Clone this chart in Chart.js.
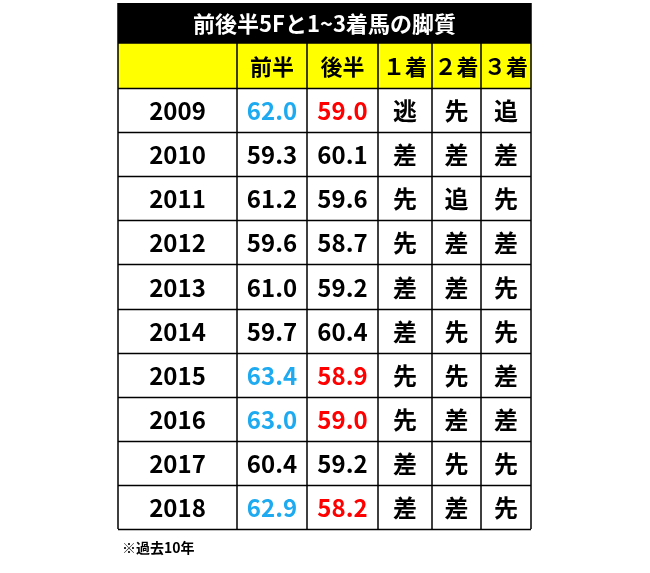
<!DOCTYPE html>
<html><head><meta charset="utf-8">
<script src="https://cdn.jsdelivr.net/npm/chart.js@4/dist/chart.umd.min.js"></script>
<style>html,body{margin:0;padding:0;background:#fff}#w{width:650px;height:573px}</style>
</head><body><div id="w"><canvas id="c"></canvas></div>
<script>
const title = "前後半5Fと1~3着馬の脚質";
const headers = ["", "前半", "後半", "１着", "２着", "３着"];
const years = ["2009","2010","2011","2012","2013","2014","2015","2016","2017","2018"];
const firstHalf = [62.0,59.3,61.2,59.6,61.0,59.7,63.4,63.0,60.4,62.9];
const secondHalf = [59.0,60.1,59.6,58.7,59.2,60.4,58.9,59.0,59.2,58.2];
const place1 = ["逃","差","先","先","差","差","先","先","差","差"];
const place2 = ["先","差","追","差","差","先","先","差","先","差"];
const place3 = ["追","差","先","差","先","先","差","差","先","先"];
const note = "※過去10年";

const colEdges = [0,119,189,260,314,363,413];
const font = '"Noto Sans CJK JP","Noto Sans",sans-serif';

const tablePlugin = {
  id:'table',
  afterDraw(chart){
    const ctx = chart.ctx, a = chart.chartArea, ys = chart.scales.y;
    const L = a.left, W = a.right - a.left;
    const sx = W / colEdges[colEdges.length-1];
    const xs = colEdges.map(e => L + e*sx);
    const titleH = 40, headH = 45;
    const top = a.top;
    const rowTop = i => ys.getPixelForValue(i) - (ys.getPixelForValue(1)-ys.getPixelForValue(0))/2;
    const rh = ys.getPixelForValue(1)-ys.getPixelForValue(0);
    ctx.save();
    // title
    ctx.fillStyle='#000'; ctx.fillRect(L, top, W, titleH);
    ctx.fillStyle='#fff'; ctx.font='bold 22px '+font; ctx.textAlign='center'; ctx.textBaseline='middle';
    ctx.fillText(title, L+W/2, top+titleH/2+1);
    // header
    const hy = top+titleH;
    ctx.fillStyle='#ffff00'; ctx.fillRect(L, hy, W, headH);
    ctx.fillStyle='#000'; ctx.font='bold 22px '+font;
    headers.forEach((h,j)=>{ ctx.fillText(h,(xs[j]+xs[j+1])/2, hy+headH/2+1); });
    // rows
    ctx.font='bold 24px '+font;
    years.forEach((y,i)=>{
      const t = rowTop(i), cy = t+rh/2+1;
      const special = firstHalf[i] >= 62;
      const vals = [y, firstHalf[i].toFixed(1), secondHalf[i].toFixed(1), place1[i], place2[i], place3[i]];
      vals.forEach((v,j)=>{
        ctx.fillStyle = (special && j===1) ? '#1eaaf0' : (special && j===2) ? '#ff0000' : '#000';
        ctx.fillText(v,(xs[j]+xs[j+1])/2, cy);
      });
    });
    // grid
    const bottom = a.bottom;
    ctx.strokeStyle='#000'; ctx.lineWidth=1.5;
    ctx.beginPath();
    for(let i=0;i<=years.length;i++){ const y=Math.round(rowTop(i))+0.5; ctx.moveTo(L,y); ctx.lineTo(L+W,y); }
    ctx.moveTo(L,hy); ctx.lineTo(L+W,hy);
    xs.forEach((x,j)=>{ ctx.moveTo(x,hy); ctx.lineTo(x,bottom); });
    ctx.moveTo(L,top); ctx.lineTo(L,bottom); ctx.moveTo(L+W,top); ctx.lineTo(L+W,bottom);
    ctx.stroke();
    // note
    ctx.fillStyle='#000'; ctx.font='bold 14px '+font; ctx.textAlign='left';
    ctx.fillText(note, L+4, bottom+19);
    ctx.restore();
  }
};

new Chart(document.getElementById('c'), {
  type:'scatter',
  data:{ datasets:[{ data: years.map((y,i)=>({x:0.5,y:i})), pointRadius:0 }] },
  options:{
    responsive:true, maintainAspectRatio:false, animation:false,
    layout:{ padding:{ left:118, right:119, top:88, bottom:44 } },
    plugins:{ legend:{display:false}, tooltip:{enabled:false} },
    scales:{
      x:{ type:'linear', min:0, max:1, display:false },
      y:{ type:'linear', min:-0.5, max:years.length-0.5, reverse:true, display:false }
    }
  },
  plugins:[{ id:'shift', beforeDraw(){}, afterLayout(chart){ } }, {
    id:'table', afterDraw(chart){
      // extend area upward for title/header
      const a = chart.chartArea;
      const saved = a.top; a.top = saved - 85;
      tablePlugin.afterDraw(chart);
      a.top = saved;
    }
  }]
});
</script></body></html>
